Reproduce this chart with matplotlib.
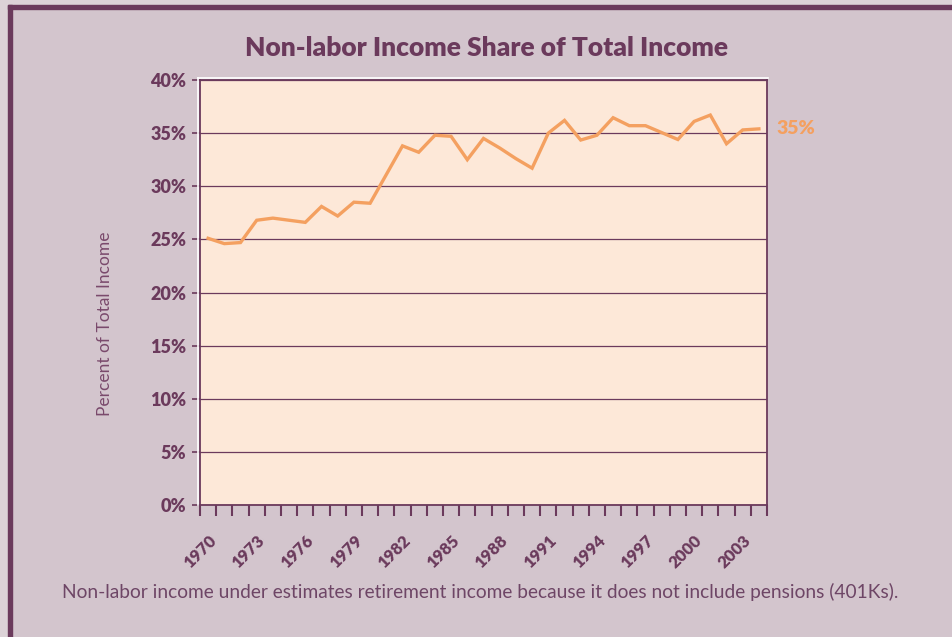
import numpy as np
import matplotlib
matplotlib.use("Agg")
import matplotlib.pyplot as plt
from matplotlib.lines import Line2D

# data
years = list(range(1970, 2005))
share = [25.1, 24.6, 24.7, 26.8, 27.0, 26.8, 26.6, 28.1, 27.2, 28.5,
         28.4, 31.1, 33.8, 33.2, 34.8, 34.7, 32.5, 34.5, 33.6, 32.6,
         31.7, 35.0, 36.2, 34.35, 34.8, 36.45, 35.7, 35.7, 35.05, 34.4,
         36.1, 36.7, 34.0, 35.3, 35.4]
end_label = "35%"
yticks = list(range(0, 45, 5))

BG = "#D3C5CD"
PLOT_BG = "#FDE8D8"
PURPLE = "#6B3A5C"
ORANGE = "#F4A060"

plt.rcParams["font.family"] = ["Lato", "DejaVu Sans"]

fig = plt.figure(figsize=(9.52, 6.37), dpi=100, facecolor=BG)
W, H = 952, 637

# outer frame bands (top and left)
fig.add_artist(plt.Rectangle((0, 1 - 9 / H), 1, 9 / H, transform=fig.transFigure,
                             color="#DCD2D7", zorder=0))
fig.add_artist(plt.Rectangle((0, 0), 8 / W, 1, transform=fig.transFigure,
                             color="#DCD2D7", zorder=0))
fig.add_artist(plt.Rectangle((8 / W, 1 - 9 / H), 1, 4 / H, transform=fig.transFigure,
                             color=PURPLE, zorder=1))
fig.add_artist(plt.Rectangle((8 / W, 0), 4 / W, 1 - 5 / H, transform=fig.transFigure,
                             color=PURPLE, zorder=1))

left, right, top, bottom = 200, 767, 80, 505
ax = fig.add_axes([left / W, 1 - bottom / H, (right - left) / W, (bottom - top) / H])
ax.set_facecolor(PLOT_BG)

# thin white edge on top and left of the plot area
fig.add_artist(Line2D([(left - 2) / W, (right + 1) / W], [1 - (top - 2) / H] * 2,
                      transform=fig.transFigure, color="white", lw=1.2))
fig.add_artist(Line2D([(left - 2) / W] * 2, [1 - (top - 2) / H, 1 - bottom / H],
                      transform=fig.transFigure, color="white", lw=1.2))

x = np.arange(len(years))
ax.plot(x, share, color=ORANGE, lw=2.4, solid_joinstyle="miter", zorder=3)

ax.set_xlim(-0.5, len(years) - 0.5)
ax.set_ylim(0, 40)

ax.set_yticks(yticks)
ax.set_yticklabels([f"{v}%" for v in yticks], fontsize=13, fontweight="heavy", color=PURPLE)
ax.yaxis.grid(True, color=PURPLE, lw=0.9)
ax.set_axisbelow(True)

ax.set_xticks(np.arange(-0.5, len(years), 1.0))
ax.set_xticklabels([])
ax.set_xticks(x[::3], minor=True)
ax.set_xticklabels([str(y) for y in years[::3]], minor=True, rotation=45,
                   ha="right", va="top", rotation_mode="anchor",
                   fontsize=12, fontweight="heavy", color=PURPLE)
ax.tick_params(axis="x", which="major", length=8, width=1.5, color=PURPLE, direction="out")
ax.tick_params(axis="x", which="minor", length=0, pad=20)
ax.tick_params(axis="y", length=6, width=1.2, color=PURPLE, pad=4)

for s in ax.spines.values():
    s.set_color(PURPLE)
    s.set_linewidth(1.3)

ax.set_ylabel("Percent of Total Income", fontsize=12.5, color="#7A4A6C",
              fontweight="normal")
ax.yaxis.set_label_coords(-0.153, 0.426)

ax.annotate(end_label, xy=(x[-1], share[-1]), xytext=(13, 0), textcoords="offset points",
            ha="left", va="center", fontsize=14, fontweight="heavy", color=ORANGE)

fig.text(487 / W, 1 - 48 / H, "Non-labor Income Share of Total Income", ha="center",
         va="center", fontsize=19, fontweight="heavy", color=PURPLE)
fig.text(480 / W, 1 - 592 / H,
         "Non-labor income under estimates retirement income because it does not include pensions (401Ks).",
         ha="center", va="center", fontsize=13.8, color="#6E4666")

fig.savefig("out.png", dpi=100, facecolor=BG)
